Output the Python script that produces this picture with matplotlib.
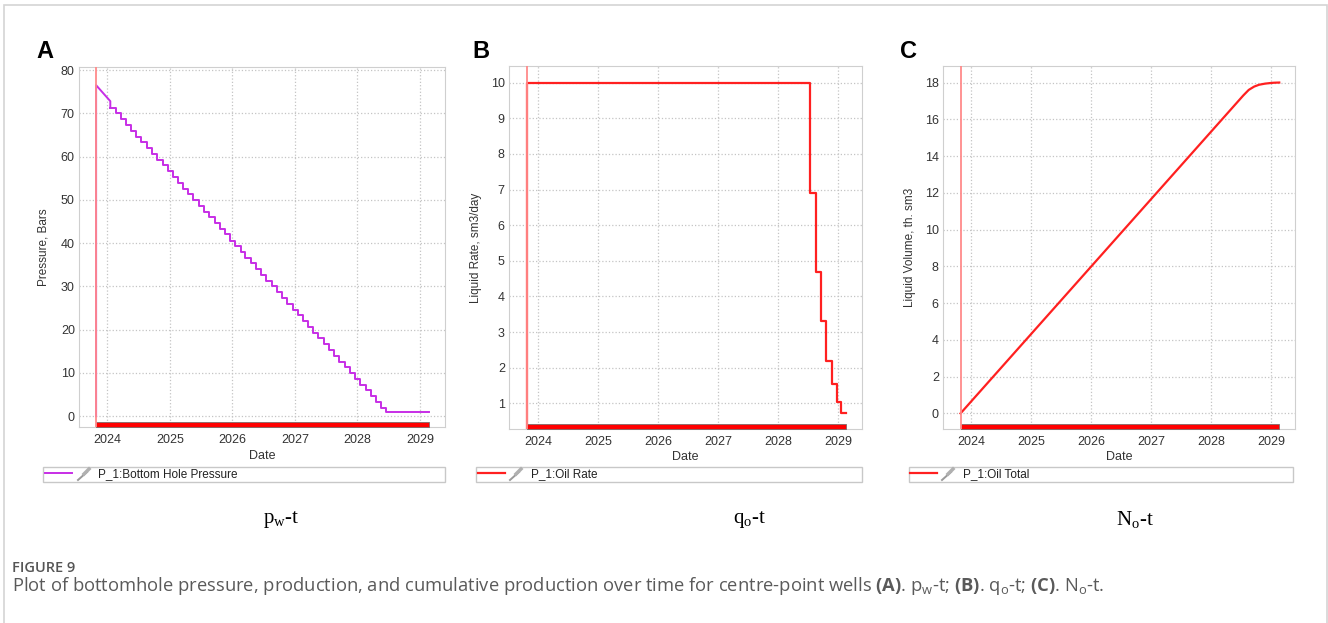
import numpy as np
import pandas as pd
import matplotlib
matplotlib.use('Agg')
import matplotlib.pyplot as plt
import matplotlib.dates as mdates
from matplotlib.lines import Line2D
from matplotlib.patches import Rectangle

plt.rcParams['font.family'] = ['Liberation Sans', 'DejaVu Sans']
plt.rcParams['mathtext.fontset'] = 'custom'
plt.rcParams['mathtext.rm'] = 'Open Sans'
plt.rcParams['mathtext.bf'] = 'Open Sans:bold'

# дата запуска и конец расчёта
start_date = '2023-10-27'
end_date = '2029-02-20'

# забойное давление (A)
press_ramp_dates = ['2023-10-27', '2023-10-27', '2024-01-18', '2024-01-18']
press_ramp_vals = [0, 76.5, 72.8, 71.3]
press_step_dates = pd.date_range('2024-01-18', '2028-06-18', freq=pd.DateOffset(months=1))
press_step_vals = [71.3, 70.0, 68.6, 67.3, 66.0, 64.6, 63.3, 62.0, 60.6, 59.3,
                   58.0, 56.6, 55.3, 54.0, 52.6, 51.3, 50.0, 48.6, 47.3, 46.0,
                   44.6, 43.3, 42.0, 40.6, 39.3, 38.0, 36.6, 35.3, 34.0, 32.6,
                   31.3, 30.0, 28.6, 27.3, 26.0, 24.6, 23.3, 22.0, 20.6, 19.3,
                   18.0, 16.6, 15.3, 14.0, 12.6, 11.3, 10.0, 8.6, 7.3, 6.0,
                   4.6, 3.3, 2.0, 1.0]

# дебит нефти (B)
rate_dates = ['2023-10-27', '2023-10-27', '2028-07-16', '2028-08-18', '2028-09-20',
              '2028-10-20', '2028-11-25', '2028-12-24', '2029-01-19', '2029-02-20']
rate_vals = [0, 10, 6.9, 4.7, 3.3, 2.2, 1.55, 1.05, 0.72, 0.72]

# накопленная добыча (C)
cum_dates = ['2023-10-27', '2028-07-16', '2028-08-18', '2028-09-20', '2028-10-20',
             '2028-11-25', '2028-12-24', '2029-01-19', '2029-02-20']
cum_vals = [0, 17.3, 17.6, 17.78, 17.88, 17.94, 17.97, 17.99, 18.0]

year_ticks = ['2024', '2025', '2026', '2027', '2028', '2029']

W, H = 1328, 623
fig = plt.figure(figsize=(W / 100, H / 100), dpi=100)


def px(x0, y_top, x1, y_bot):
    return [x0 / W, 1 - y_bot / H, (x1 - x0) / W, (y_bot - y_top) / H]


def style_axes(ax, xmin, ylim, yticks, ylabel, ylab_x, xlab_y):
    ax.set_xlim(pd.Timestamp(xmin), pd.Timestamp('2029-05-27'))
    ax.set_ylim(*ylim)
    ax.set_yticks(yticks)
    ax.set_xticks([pd.Timestamp(y + '-01-01') for y in year_ticks])
    ax.xaxis.set_major_formatter(mdates.DateFormatter('%Y'))
    ax.grid(True, color='#c4c4c4', linestyle=':', linewidth=0.9)
    ax.set_axisbelow(True)
    for s in ax.spines.values():
        s.set_color('#cfcfcf')
    ax.tick_params(length=0, labelsize=9, colors='#333333')
    ax.tick_params(axis='x', pad=5)
    ax.tick_params(axis='y', pad=3)
    ax.set_ylabel(ylabel, fontsize=8.5, color='#333333')
    ax.yaxis.set_label_coords(ylab_x, 0.5)
    ax.set_xlabel('Date', fontsize=9, color='#333333')
    ax.xaxis.set_label_coords(0.5, xlab_y)
    # линия даты запуска
    ax.axvline(pd.Timestamp(start_date), color='#ff8a8a', lw=1.3, zorder=4)
    # полоса расписания
    ax.fill_between([pd.Timestamp(start_date), pd.Timestamp(end_date)], 0, 0.013,
                    transform=ax.get_xaxis_transform(), color='#ff0000',
                    edgecolor='#666666', linewidth=0.5, zorder=3)


def legend_box(ax, handle, label, bbox):
    ax.legend([handle], [label], loc='center left', bbox_to_anchor=bbox, mode='expand',
              borderaxespad=0, fancybox=False, edgecolor='#c8c8c8', framealpha=1,
              fontsize=8.5, handlelength=2.3, handletextpad=2.2, borderpad=0.15,
              labelcolor='#222222')


def pin(x, y):
    fig.add_artist(Line2D([x / W, (x + 9) / W], [1 - (y + 5) / H, 1 - (y - 3) / H],
                          color='#9a9a9a', lw=1.4))
    fig.add_artist(Line2D([(x + 6) / W, (x + 11) / W], [1 - (y - 1) / H, 1 - (y - 6) / H],
                          color='#b0b0b0', lw=2.5))


# A
axA = fig.add_axes(px(79, 67, 445, 427))
axA.plot(pd.to_datetime(press_ramp_dates), press_ramp_vals, color='#c72ee6', lw=1.4, zorder=3)
hA, = axA.plot(list(press_step_dates) + [pd.Timestamp(end_date)], press_step_vals + [press_step_vals[-1]],
               color='#c72ee6', lw=1.4, drawstyle='steps-post', zorder=3)
style_axes(axA, '2023-07-19', (-2.5, 80.7), np.arange(0, 81, 10), 'Pressure, Bars',
           -30 / 366, -23 / 360)
legend_box(axA, hA, 'P_1:Bottom Hole Pressure', (-0.098, -0.153, 1.098, 0.042))
pin(78, 475)

# B
axB = fig.add_axes(px(509, 66, 862, 429))
hB, = axB.plot(pd.to_datetime(rate_dates), rate_vals, color='#ff2020', lw=1.6,
               drawstyle='steps-post', zorder=3)
style_axes(axB, '2023-07-07', (0.28, 10.47), np.arange(1, 11, 1), 'Liquid Rate, sm3/day',
           -27 / 353, -22 / 363)
legend_box(axB, hB, 'P_1:Oil Rate', (-0.093, -0.146, 1.093, 0.041))
pin(510, 475)

# C
axC = fig.add_axes(px(943, 66, 1295, 429))
hC, = axC.plot(pd.to_datetime(cum_dates), cum_vals, color='#ff2020', lw=1.6, zorder=3)
style_axes(axC, '2023-07-12', (-0.85, 18.9), np.arange(0, 19, 2), 'Liquid Volume, th. sm3',
           -27 / 352, -22 / 363)
legend_box(axC, hC, 'P_1:Oil Total', (-0.098, -0.146, 1.093, 0.041))
pin(942, 475)

# буквы панелей
for x, lab in [(36, 'A'), (472, 'B'), (900, 'C')]:
    fig.text(x / W, 1 - 58 / H, lab, fontsize=17, fontweight='bold', color='black')

# подписи под панелями
for x, lab in [(281, r'$\mathregular{p_{w}}$-t'), (750, r'$\mathregular{q_{o}}$-t'),
               (1135, r'$\mathregular{N_{o}}$-t')]:
    fig.text(x / W, 1 - 520 / H, lab, fontsize=15, family='Liberation Serif',
             ha='center', va='center', color='black')

# рамка
fig.add_artist(Rectangle((4 / W, -0.05), (W - 5) / W, 1.05 - 5 / H, transform=fig.transFigure,
                         fill=False, edgecolor='#d4d4d4', lw=1.2))

fig.text(12 / W, 1 - 572 / H, 'FIGURE 9', fontsize=10.5, family='Open Sans', fontweight='semibold',
         color='#555555', va='baseline')
fig.text(12 / W, 1 - 591 / H,
         r'Plot of bottomhole pressure, production, and cumulative production over time for '
         r'centre-point wells $\mathbf{(A)}$. p$_\mathregular{w}$-t; $\mathbf{(B)}$. '
         r'q$_\mathregular{o}$-t; $\mathbf{(C)}$. N$_\mathregular{o}$-t.',
         fontsize=13.2, family='Open Sans', color='#5a5a5a', va='baseline')

fig.savefig('out.png', dpi=100)
